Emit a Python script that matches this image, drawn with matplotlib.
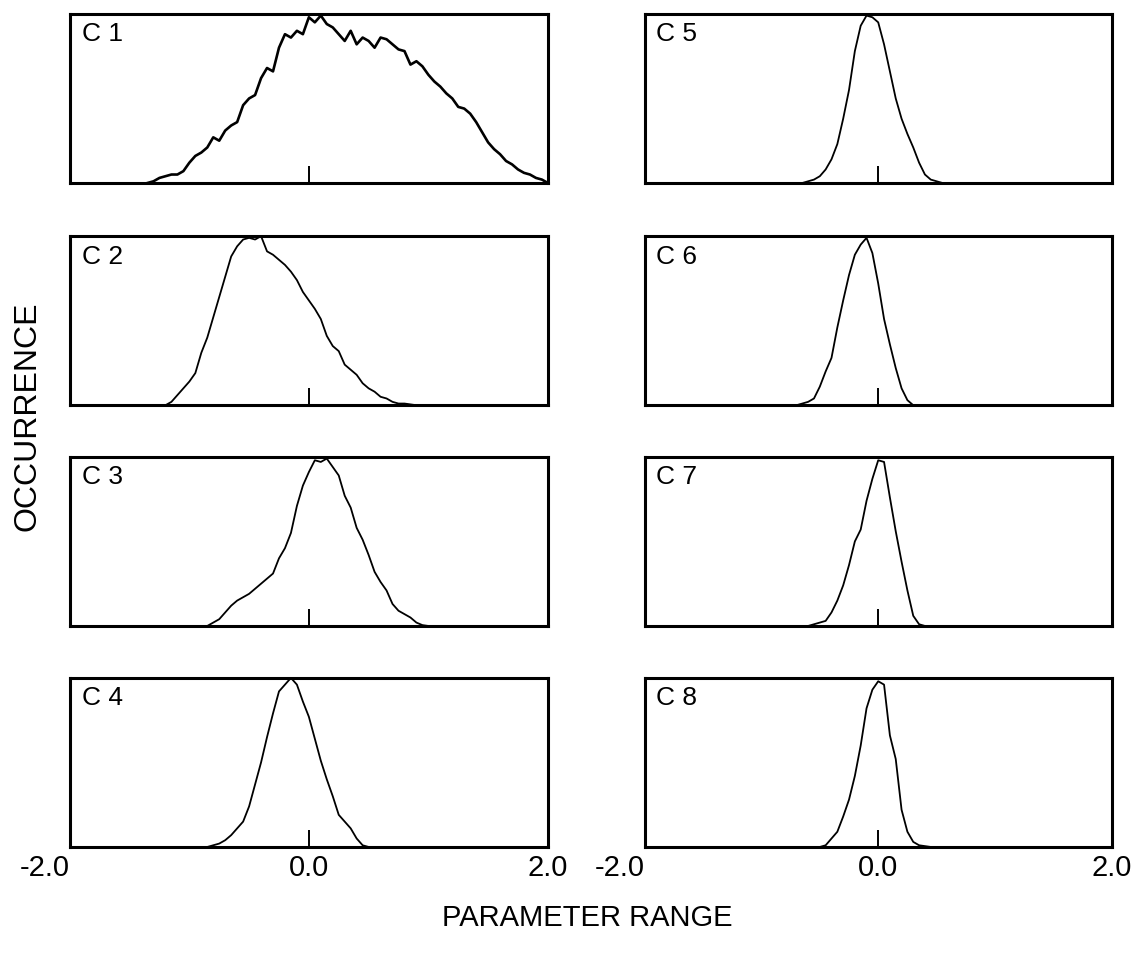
import numpy as np
import matplotlib
matplotlib.use("Agg")
from matplotlib import pyplot as plt

plt.rcParams['font.family'] = ['Liberation Sans', 'DejaVu Sans']

# occurrence curves (peak scaled to 1)
c1_x = [-1.35, -1.30, -1.25, -1.20, -1.15, -1.10, -1.05, -1.00, -0.95, -0.90,
        -0.85, -0.80, -0.75, -0.70, -0.65, -0.60, -0.55, -0.50, -0.45, -0.40,
        -0.35, -0.30, -0.25, -0.20, -0.15, -0.10, -0.05, 0.00, 0.05, 0.10,
        0.15, 0.20, 0.25, 0.30, 0.35, 0.40, 0.45, 0.50, 0.55, 0.60,
        0.65, 0.70, 0.75, 0.80, 0.85, 0.90, 0.95, 1.00, 1.05, 1.10,
        1.15, 1.20, 1.25, 1.30, 1.35, 1.40, 1.45, 1.50, 1.55, 1.60,
        1.65, 1.70, 1.75, 1.80, 1.85, 1.90, 1.95, 2.00]
c1_y = [0.00, 0.01, 0.03, 0.04, 0.05, 0.05, 0.07, 0.12, 0.16, 0.18,
        0.21, 0.27, 0.25, 0.31, 0.34, 0.36, 0.46, 0.50, 0.52, 0.62,
        0.68, 0.66, 0.80, 0.88, 0.86, 0.90, 0.88, 0.98, 0.95, 0.99,
        0.94, 0.92, 0.88, 0.84, 0.90, 0.82, 0.86, 0.84, 0.80, 0.86,
        0.85, 0.82, 0.79, 0.78, 0.70, 0.72, 0.69, 0.64, 0.60, 0.57,
        0.53, 0.50, 0.45, 0.44, 0.41, 0.36, 0.30, 0.24, 0.20, 0.17,
        0.13, 0.11, 0.08, 0.06, 0.05, 0.03, 0.02, 0.00]

c2_x = [-1.20, -1.15, -1.10, -1.05, -1.00, -0.95, -0.90, -0.85, -0.80, -0.75,
        -0.70, -0.65, -0.60, -0.55, -0.50, -0.45, -0.40, -0.35, -0.30, -0.25,
        -0.20, -0.15, -0.10, -0.05, 0.00, 0.05, 0.10, 0.15, 0.20, 0.25,
        0.30, 0.35, 0.40, 0.45, 0.50, 0.55, 0.60, 0.65, 0.70, 0.75,
        0.80, 0.85, 0.90, 1.00]
c2_y = [0.00, 0.02, 0.06, 0.10, 0.14, 0.19, 0.31, 0.40, 0.52, 0.64,
        0.76, 0.88, 0.94, 0.98, 0.99, 0.98, 1.00, 0.91, 0.89, 0.86,
        0.83, 0.79, 0.74, 0.67, 0.62, 0.57, 0.51, 0.41, 0.35, 0.32,
        0.24, 0.21, 0.18, 0.13, 0.10, 0.08, 0.05, 0.04, 0.02, 0.01,
        0.01, 0.005, 0.00, 0.00]

c3_x = [-0.85, -0.80, -0.75, -0.70, -0.65, -0.60, -0.55, -0.50, -0.45, -0.40,
        -0.35, -0.30, -0.25, -0.20, -0.15, -0.10, -0.05, 0.00, 0.05, 0.10,
        0.15, 0.20, 0.25, 0.30, 0.35, 0.40, 0.45, 0.50, 0.55, 0.60,
        0.65, 0.70, 0.75, 0.80, 0.85, 0.90, 0.95, 1.00]
c3_y = [0.00, 0.02, 0.04, 0.08, 0.12, 0.15, 0.17, 0.19, 0.22, 0.25,
        0.28, 0.31, 0.40, 0.46, 0.55, 0.71, 0.83, 0.91, 0.98, 0.97,
        0.99, 0.94, 0.89, 0.77, 0.70, 0.58, 0.51, 0.42, 0.32, 0.26,
        0.21, 0.13, 0.09, 0.07, 0.05, 0.02, 0.005, 0.00]

c4_x = [-0.85, -0.80, -0.75, -0.70, -0.65, -0.60, -0.55, -0.50, -0.45, -0.40,
        -0.35, -0.30, -0.25, -0.20, -0.15, -0.10, -0.05, 0.00, 0.05, 0.10,
        0.15, 0.20, 0.25, 0.30, 0.35, 0.40, 0.45, 0.50]
c4_y = [0.00, 0.01, 0.02, 0.04, 0.07, 0.11, 0.15, 0.24, 0.37, 0.50,
        0.65, 0.79, 0.92, 0.96, 1.00, 0.96, 0.86, 0.77, 0.64, 0.51,
        0.40, 0.30, 0.19, 0.15, 0.11, 0.05, 0.01, 0.00]

c5_x = [-0.65, -0.60, -0.55, -0.50, -0.45, -0.40, -0.35, -0.30, -0.25, -0.20,
        -0.15, -0.10, -0.05, 0.00, 0.05, 0.10, 0.15, 0.20, 0.25, 0.30,
        0.35, 0.40, 0.45, 0.50, 0.55, 0.60]
c5_y = [0.00, 0.01, 0.02, 0.04, 0.08, 0.14, 0.23, 0.38, 0.55, 0.78,
        0.93, 0.99, 0.98, 0.95, 0.82, 0.66, 0.50, 0.38, 0.29, 0.21,
        0.12, 0.05, 0.02, 0.01, 0.00, 0.00]

c6_x = [-0.70, -0.65, -0.60, -0.55, -0.50, -0.45, -0.40, -0.35, -0.30, -0.25,
        -0.20, -0.15, -0.10, -0.05, 0.00, 0.05, 0.10, 0.15, 0.20, 0.25, 0.30]
c6_y = [0.00, 0.01, 0.02, 0.04, 0.11, 0.20, 0.28, 0.46, 0.62, 0.77,
        0.89, 0.95, 0.99, 0.90, 0.72, 0.51, 0.36, 0.22, 0.10, 0.03, 0.00]

c7_x = [-0.60, -0.55, -0.50, -0.45, -0.40, -0.35, -0.30, -0.25, -0.20, -0.15,
        -0.10, -0.05, 0.00, 0.05, 0.10, 0.15, 0.20, 0.25, 0.30, 0.35, 0.40]
c7_y = [0.00, 0.01, 0.02, 0.03, 0.08, 0.15, 0.24, 0.36, 0.50, 0.57,
        0.74, 0.87, 0.98, 0.97, 0.76, 0.56, 0.38, 0.21, 0.06, 0.01, 0.00]

c8_x = [-0.50, -0.45, -0.40, -0.35, -0.30, -0.25, -0.20, -0.15, -0.10, -0.05,
        0.00, 0.05, 0.10, 0.15, 0.20, 0.25, 0.30, 0.35, 0.40, 0.45]
c8_y = [0.00, 0.01, 0.05, 0.09, 0.18, 0.28, 0.42, 0.60, 0.82, 0.93,
        0.98, 0.96, 0.66, 0.52, 0.22, 0.09, 0.03, 0.01, 0.005, 0.00]

labels = ["C 1", "C 2", "C 3", "C 4", "C 5", "C 6", "C 7", "C 8"]
curves = [(c1_x, c1_y), (c2_x, c2_y), (c3_x, c3_y), (c4_x, c4_y),
          (c5_x, c5_y), (c6_x, c6_y), (c7_x, c7_y), (c8_x, c8_y)]
tick_pos = [-2.0, 0.0, 2.0]
tick_txt = ["-2.0", "0.0", "2.0"]

fig = plt.figure(figsize=(11.45, 9.58), dpi=100)

# panel rectangles (figure fractions)
lefts = [0.061, 0.563]
widths = [0.4175, 0.408]
bottoms = [0.809, 0.577, 0.3466, 0.1159]
h = 0.1765

for i in range(8):
    col = i // 4
    row = i % 4
    ax = fig.add_axes([lefts[col], bottoms[row], widths[col], h])
    x, y = curves[i]
    lw = 1.9 if i == 0 else 1.3
    ax.plot(x, y, color='black', lw=lw, clip_on=False)
    ax.set_xlim(-2, 2)
    ax.set_ylim(0, 1.0)
    ax.set_yticks([])
    for s in ax.spines.values():
        s.set_linewidth(2.2)
    ax.set_xticks(tick_pos)
    ax.tick_params(axis='x', direction='in', length=12, width=1.4,
                   labelsize=21, pad=5)
    ticks = ax.xaxis.get_major_ticks()
    ticks[0].tick1line.set_visible(False)
    ticks[2].tick1line.set_visible(False)
    if row == 3:
        ax.set_xticklabels(tick_txt)
        ax.get_xticklabels()[0].set_ha('right')
    else:
        ax.set_xticklabels([])
    ax.text(0.025, 0.95, labels[i], transform=ax.transAxes, fontsize=19,
            va='top', ha='left')

fig.text(0.513, 0.042, "PARAMETER RANGE", fontsize=21, ha='center', va='center')
fig.text(0.024, 0.565, "OCCURRENCE", fontsize=23, rotation=90,
         ha='center', va='center')

fig.savefig("out.png", dpi=100)
